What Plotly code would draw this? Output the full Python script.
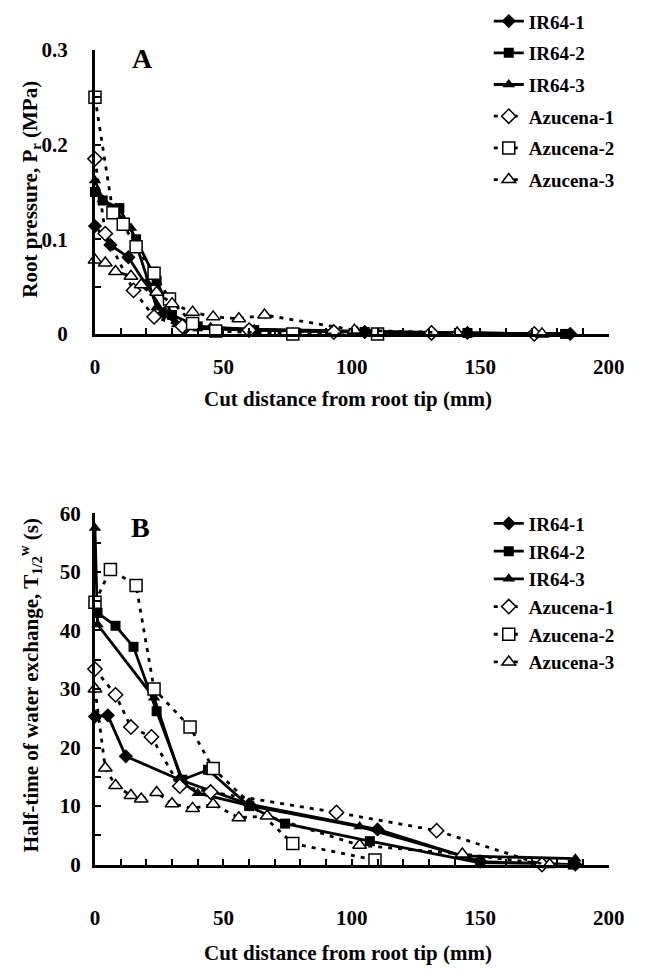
import plotly.graph_objects as go

# ---------------- Panel A: root pressure (MPa) ----------------
a_ir64_1_x = [0, 6, 13, 20, 27, 35, 60, 105, 145, 185]
a_ir64_1_y = [0.114, 0.094, 0.081, 0.052, 0.022, 0.006, 0.004, 0.002, 0.001, 0.0]
a_ir64_2_x = [0, 3, 9.5, 16, 24, 30, 40, 62, 105, 145, 183]
a_ir64_2_y = [0.15, 0.141, 0.133, 0.1, 0.056, 0.02, 0.008, 0.004, 0.002, 0.001, 0.0]
a_ir64_3_x = [0, 3, 8, 14, 24, 32, 45, 62, 102, 145, 185]
a_ir64_3_y = [0.162, 0.142, 0.13, 0.112, 0.028, 0.01, 0.007, 0.005, 0.003, 0.001, 0.0]
a_azu_1_x = [0, 4, 15, 23, 34, 60, 93, 131, 171]
a_azu_1_y = [0.185, 0.106, 0.046, 0.018, 0.008, 0.004, 0.002, 0.001, 0.0]
a_azu_2_x = [0, 7, 11, 16, 23, 29, 38, 47, 77, 110]
a_azu_2_y = [0.25, 0.128, 0.116, 0.092, 0.064, 0.037, 0.011, 0.003, 0.0, 0.0]
a_azu_3_x = [0, 4, 8, 14, 18, 24, 30, 38, 46, 56, 66, 101, 141, 174]
a_azu_3_y = [0.078, 0.075, 0.066, 0.061, 0.052, 0.044, 0.032, 0.023, 0.018, 0.016, 0.02, 0.004, 0.001, 0.0]

# ---------------- Panel B: half-time of water exchange (s) ----------------
b_ir64_1_x = [0, 5, 12, 33, 60, 110, 150, 187]
b_ir64_1_y = [25.3, 25.5, 18.5, 14.5, 10.3, 6.0, 0.5, 0.0]
b_ir64_2_x = [1, 8, 15, 24, 34, 44, 60, 74, 107, 150, 186]
b_ir64_2_y = [43.0, 40.8, 37.2, 26.2, 14.5, 16.2, 10.0, 7.0, 4.0, 0.3, 0.0]
b_ir64_3_x = [0, 1, 23, 34, 40, 61, 103, 143, 187]
b_ir64_3_y = [57.5, 41.0, 28.5, 14.0, 12.2, 10.0, 6.5, 1.5, 1.0]
b_azu_1_x = [0, 8, 14, 22, 33, 45, 94, 133, 174]
b_azu_1_y = [33.4, 29.0, 23.5, 21.8, 13.4, 12.4, 8.9, 5.8, 0.0]
b_azu_2_x = [0, 6, 16, 23, 37, 46, 77, 109]
b_azu_2_y = [44.8, 50.4, 47.7, 30.0, 23.5, 16.4, 3.6, 0.8]
b_azu_3_x = [0, 4, 8, 14, 18, 24, 30, 38, 46, 56, 67, 103, 143, 177]
b_azu_3_y = [30.0, 16.5, 13.5, 11.8, 11.2, 12.3, 10.4, 9.6, 10.3, 8.0, 8.3, 3.3, 1.8, 0.0]

series_names = ["IR64-1", "IR64-2", "IR64-3", "Azucena-1", "Azucena-2", "Azucena-3"]
x_ticks = [0, 50, 100, 150, 200]
a_y_ticks = [0, 0.1, 0.2, 0.3]
a_y_ticklabels = ["0", "0.1", "0.2", "0.3"]
b_y_ticks = [0, 10, 20, 30, 40, 50, 60]

FONT = "Liberation Serif"
W, H = 647, 979

styles = [
    dict(symbol="diamond", fill="black", dash="solid"),
    dict(symbol="square", fill="black", dash="solid"),
    dict(symbol="triangle-up", fill="black", dash="solid"),
    dict(symbol="diamond", fill="white", dash="4px,6px"),
    dict(symbol="square", fill="white", dash="4px,6px"),
    dict(symbol="triangle-up", fill="white", dash="4px,6px"),
]
sizes = [11, 10, 11, 11, 12, 12]

a_data = [(a_ir64_1_x, a_ir64_1_y), (a_ir64_2_x, a_ir64_2_y), (a_ir64_3_x, a_ir64_3_y),
          (a_azu_1_x, a_azu_1_y), (a_azu_2_x, a_azu_2_y), (a_azu_3_x, a_azu_3_y)]
b_data = [(b_ir64_1_x, b_ir64_1_y), (b_ir64_2_x, b_ir64_2_y), (b_ir64_3_x, b_ir64_3_y),
          (b_azu_1_x, b_azu_1_y), (b_azu_2_x, b_azu_2_y), (b_azu_3_x, b_azu_3_y)]

fig = go.Figure()


def add_series(data, xa, ya, legend, prefix):
    for i, ((xs, ys), name) in enumerate(zip(data, series_names)):
        st = styles[i]
        open_m = st["fill"] == "white"
        fig.add_trace(go.Scatter(
            x=xs, y=ys, name=name, mode="lines+markers",
            xaxis=xa, yaxis=ya, legend=legend, legendgroup=prefix + str(i),
            cliponaxis=False,
            line=dict(color="black", width=2.8, dash=st["dash"]),
            marker=dict(symbol=st["symbol"], size=sizes[i],
                        color="white" if open_m else "black",
                        line=dict(color="black", width=1.5 if open_m else 0)),
        ))


add_series(a_data, "x", "y", "legend", "a")
add_series(b_data, "x2", "y2", "legend2", "b")

xdom = [93 / W, 624 / W]
a_dom = [1 - 330 / H, 1 - 39 / H]
b_dom = [1 - 874 / H, 1 - 514 / H]

tickfont = dict(family=FONT, size=21, color="black", weight="bold")
common_x = dict(range=[0, 200], tickvals=x_ticks, ticks="inside", ticklen=6, tickwidth=2,
                tickcolor="black", showline=True, linecolor="black", linewidth=3,
                showgrid=False, zeroline=False, tickfont=tickfont,
                minor=dict(dtick=10, ticks="inside", ticklen=6, tickwidth=2, tickcolor="black", showgrid=False))

legfont = dict(family=FONT, size=19, color="black", weight="bold")
fig.update_layout(
    width=W, height=H, margin=dict(l=0, r=0, t=0, b=0),
    paper_bgcolor="white", plot_bgcolor="white",
    font=dict(family=FONT, color="black", weight="bold"),
    xaxis=dict(domain=xdom, anchor="y", ticklabelstandoff=12, **common_x),
    xaxis2=dict(domain=xdom, anchor="y2", ticklabelstandoff=32, **common_x),
    yaxis=dict(domain=a_dom, anchor="x", range=[0, 0.3], tickvals=a_y_ticks, ticktext=a_y_ticklabels,
               ticks="inside", ticklen=6, tickwidth=2, tickcolor="black",
               showline=True, linecolor="black", linewidth=3, showgrid=False, zeroline=False,
               tickfont=tickfont, ticklabelstandoff=20,
               minor=dict(dtick=0.05, ticks="inside", ticklen=6, tickwidth=2, tickcolor="black", showgrid=False)),
    yaxis2=dict(domain=b_dom, anchor="x2", range=[0, 60], tickvals=b_y_ticks,
                ticks="inside", ticklen=6, tickwidth=2, tickcolor="black",
                showline=True, linecolor="black", linewidth=3, showgrid=False, zeroline=False,
                tickfont=tickfont, ticklabelstandoff=7,
                minor=dict(dtick=5, ticks="inside", ticklen=6, tickwidth=2, tickcolor="black", showgrid=False)),
    legend=dict(x=500 / W, y=1 + 10 / H, xanchor="left", yanchor="top",
                bgcolor="rgba(0,0,0,0)", font=legfont, tracegroupgap=4, itemwidth=30),
    legend2=dict(x=500 / W, y=1 - 505 / H, xanchor="left", yanchor="top",
                 bgcolor="rgba(0,0,0,0)", font=legfont, tracegroupgap=0, itemwidth=30),
    showlegend=True,
)

ann_font = dict(family=FONT, size=21, color="black", weight="bold")
fig.add_annotation(text="Root pressure, P<sub>r</sub> (MPa)", x=26 / W, y=1 - 182 / H,
                   xref="paper", yref="paper", xanchor="center", yanchor="middle",
                   textangle=-90, showarrow=False, font=ann_font)
fig.add_annotation(text="Half-time of water exchange, T<sub>1/2</sub><sup>w</sup> (s)", x=26 / W, y=1 - 690 / H,
                   xref="paper", yref="paper", xanchor="center", yanchor="middle",
                   textangle=-90, showarrow=False, font=ann_font)
fig.add_annotation(text="Cut distance from root tip (mm)", x=354 / W, y=1 - 397 / H,
                   xref="paper", yref="paper", xanchor="center", yanchor="middle",
                   showarrow=False, font=ann_font)
fig.add_annotation(text="Cut distance from root tip (mm)", x=354 / W, y=1 - 965 / H,
                   xref="paper", yref="paper", xanchor="center", yanchor="middle",
                   showarrow=False, font=ann_font)
fig.add_annotation(text="A", x=142 / W, y=1 - 48 / H, xref="paper", yref="paper",
                   xanchor="center", yanchor="middle", showarrow=False,
                   font=dict(family=FONT, size=28, color="black", weight="bold"))
fig.add_annotation(text="B", x=140 / W, y=1 - 528 / H, xref="paper", yref="paper",
                   xanchor="center", yanchor="middle", showarrow=False,
                   font=dict(family=FONT, size=28, color="black", weight="bold"))

fig.write_html("out.html")
